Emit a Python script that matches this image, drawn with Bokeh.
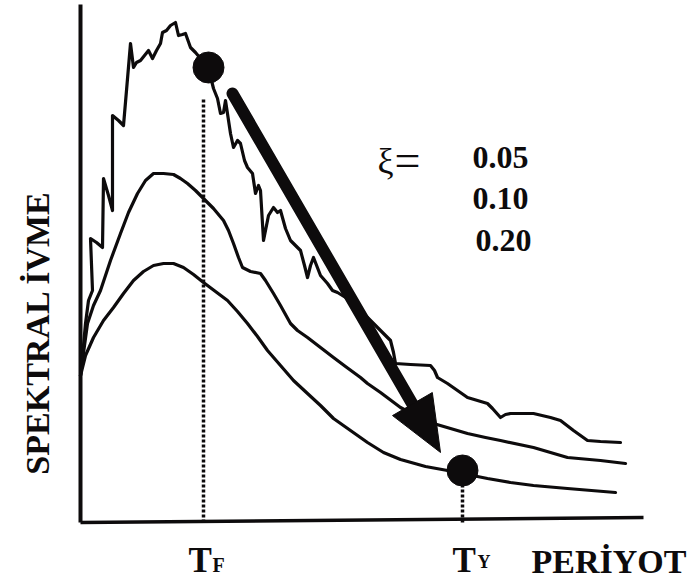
from math import pi
import numpy as np
from bokeh.plotting import figure
from bokeh.models import Range1d
from bokeh.core.properties import value
from bokeh.embed import file_html
from bokeh.resources import INLINE

# ---- data (period T, spectral acceleration Sa; arbitrary units) ----
t_005 = [0.00, 0.03, 0.05, 0.08, 0.12, 0.10, 0.16, 0.22, 0.23, 0.28, 0.32, 0.32, 0.32, 0.38, 0.43, 0.46,
         0.50, 0.53, 0.56, 0.60, 0.64, 0.68, 0.72, 0.76, 0.80, 0.82, 0.86, 0.90, 0.95, 0.98, 1.02, 1.05,
         1.10, 1.15, 1.20, 1.28, 1.33, 1.37, 1.40, 1.43, 1.45, 1.50, 1.53, 1.57, 1.60, 1.64, 1.67, 1.72,
         1.75, 1.78, 1.80, 1.83, 1.88, 1.93, 1.97, 2.00, 2.05, 2.10, 2.15, 2.20, 2.24, 2.27, 2.30, 2.33,
         2.40, 2.47, 2.52, 2.57, 2.70, 2.85, 2.97, 3.05, 3.10, 3.13, 3.15, 3.30, 3.50, 3.54, 3.57, 3.67,
         3.87, 4.07, 4.12, 4.20, 4.25, 4.30, 4.53, 4.70, 4.80, 4.93, 5.07, 5.20, 5.40]
sa_005 = [1.47, 1.77, 1.99, 2.22, 2.32, 2.84, 2.80, 2.75, 3.44, 3.27, 3.12, 3.72, 4.07, 4.02, 3.97, 4.32,
          4.79, 4.55, 4.60, 4.62, 4.67, 4.72, 4.64, 4.72, 4.79, 4.90, 4.92, 4.97, 5.00, 4.87, 4.88, 4.89,
          4.75, 4.70, 4.64, 4.54, 4.34, 4.24, 4.09, 4.10, 4.22, 3.89, 3.75, 3.82, 3.79, 3.62, 3.55, 3.49,
          3.29, 3.37, 3.32, 2.82, 3.07, 3.15, 3.10, 3.12, 2.94, 2.82, 2.77, 2.72, 2.57, 2.45, 2.57, 2.65,
          2.47, 2.39, 2.32, 2.30, 2.22, 2.07, 1.95, 1.87, 1.82, 1.70, 1.59, 1.58, 1.57, 1.52, 1.45, 1.39,
          1.25, 1.19, 1.14, 1.05, 1.08, 1.09, 1.09, 1.05, 1.02, 0.92, 0.82, 0.81, 0.80]

t_010 = [0.00, 0.04, 0.07, 0.13, 0.20, 0.30, 0.40, 0.48, 0.57, 0.65, 0.73, 0.83, 0.93, 1.00, 1.07, 1.15,
         1.23, 1.33, 1.43, 1.48, 1.53, 1.58, 1.62, 1.70, 1.80, 1.85, 1.93, 2.00, 2.10, 2.17, 2.27, 2.40,
         2.53, 2.65, 2.80, 2.87, 3.00, 3.20, 3.35, 3.53, 3.70, 3.87, 4.05, 4.20, 4.53, 4.87, 5.20, 5.45]
sa_010 = [1.47, 1.77, 1.99, 2.17, 2.32, 2.62, 2.89, 3.10, 3.29, 3.42, 3.49, 3.49, 3.48, 3.44, 3.39, 3.32,
          3.24, 3.14, 3.02, 2.92, 2.79, 2.65, 2.55, 2.51, 2.49, 2.42, 2.29, 2.17, 1.99, 1.92, 1.85, 1.75,
          1.65, 1.56, 1.45, 1.39, 1.30, 1.15, 1.07, 0.99, 0.94, 0.89, 0.85, 0.82, 0.75, 0.65, 0.62, 0.59]

t_020 = [0.00, 0.05, 0.13, 0.23, 0.33, 0.43, 0.53, 0.63, 0.73, 0.83, 0.93, 1.03, 1.13, 1.23, 1.35, 1.47,
         1.57, 1.67, 1.77, 1.87, 2.00, 2.13, 2.27, 2.40, 2.53, 2.70, 2.87, 3.03, 3.20, 3.45, 3.67, 3.82,
         4.07, 4.30, 4.53, 4.87, 5.35]
sa_020 = [1.47, 1.67, 1.85, 2.02, 2.15, 2.29, 2.42, 2.51, 2.57, 2.59, 2.59, 2.55, 2.48, 2.40, 2.31, 2.22,
          2.11, 1.99, 1.86, 1.72, 1.57, 1.42, 1.29, 1.17, 1.04, 0.92, 0.80, 0.70, 0.63, 0.56, 0.52, 0.49,
          0.44, 0.40, 0.37, 0.34, 0.30]

damping_labels = ["0.05", "0.10", "0.20"]

T_F = 1.23          # period at the first (upper) point
T_Y = 3.82          # period at the second (lower) point
pt_F = (1.28, 4.55)  # marked point on the 0.05 curve
pt_Y = (3.82, 0.52)  # marked point on the 0.20 curve
arrow_from = (1.52, 4.29)
arrow_to = (3.60, 0.70)

x_axis_end = (5.63, 0.05)
y_axis_top = 5.18
tf_line_top = 4.25
ty_line_top = 0.37

# ---- figure ----
INK = "#0d0b0c"
SERIF = value("Liberation Serif")

p = figure(width=698, height=579, output_backend="svg", toolbar_location=None,
           x_range=Range1d(-0.80, 6.18), y_range=Range1d(-0.57, 5.22),
           min_border=0)
p.xaxis.visible = False
p.yaxis.visible = False
p.xgrid.visible = False
p.ygrid.visible = False
p.outline_line_color = None
p.background_fill_color = "white"
p.border_fill_color = "white"

# axes
p.line([0, 0], [0, y_axis_top], line_color=INK, line_width=4)
p.line([0, x_axis_end[0]], [0, x_axis_end[1]], line_color=INK, line_width=3.5)

# dotted guides
p.line([T_F, T_F], [0, tf_line_top], line_color=INK, line_width=3.5, line_dash="3 2")
p.line([T_Y, T_Y], [0, ty_line_top], line_color=INK, line_width=3.5, line_dash="3 2")

# spectra
for tx, sy in [(t_005, sa_005), (t_010, sa_010), (t_020, sa_020)]:
    p.line(tx, sy, line_color=INK, line_width=3.2, line_join="round", line_cap="round")

# arrow
ax0, ay0 = arrow_from
ax1, ay1 = arrow_to
d = np.array([ax1 - ax0, ay1 - ay0])
u = d / np.hypot(*d)
n = np.array([-u[1], u[0]])
head_len, head_w = 0.56, 0.46
base = np.array([ax1, ay1]) - head_len * u
p.line([ax0, base[0] + 0.05 * u[0]], [ay0, base[1] + 0.05 * u[1]],
       line_color=INK, line_width=12, line_cap="round")
c1 = base + 0.5 * head_w * n
c2 = base - 0.5 * head_w * n
p.patch([c1[0], ax1, c2[0]], [c1[1], ay1, c2[1]], fill_color=INK, line_color=INK, line_width=1)

# points
p.scatter([pt_F[0], pt_Y[0]], [pt_F[1], pt_Y[1]], size=31, fill_color=INK, line_color=INK)

# damping labels
p.text([2.97], [3.62], text=["ξ"], text_font=SERIF, text_font_size="36px",
       text_color=INK, text_baseline="alphabetic", text_align="left")
p.text([3.14], [3.62], text=["="], text_font=SERIF, text_font_size="46px",
       text_color=INK, text_baseline="alphabetic", text_align="left")
p.text([3.92, 3.92, 3.95], [3.65, 3.24, 2.82], text=damping_labels, text_font=SERIF,
       text_font_size="32px", text_font_style="bold", text_color=INK,
       text_baseline="alphabetic", text_align="left")

# axis labels
p.text([-0.43], [1.90], text=["SPEKTRAL İVME"], angle=pi / 2, text_font=SERIF,
       text_font_size="34px", text_font_style="bold", text_color=INK,
       text_baseline="alphabetic", text_align="center")
p.text([4.51], [-0.39], text=["PERİYOT"], text_font=SERIF, text_font_size="34px",
       text_font_style="bold", text_color=INK, text_baseline="alphabetic", text_align="left")

# period markers
p.text([1.08, 3.72], [-0.38, -0.38], text=["T", "T"], text_font=SERIF, text_font_size="35px",
       text_font_style="bold", text_color=INK, text_baseline="alphabetic", text_align="left")
p.text([1.32], [-0.42], text=["F"], text_font=SERIF, text_font_size="20px",
       text_font_style="bold", text_color=INK, text_baseline="alphabetic", text_align="left")
p.text([3.97], [-0.39], text=["Y"], text_font=SERIF, text_font_size="18px",
       text_font_style="bold", text_color=INK, text_baseline="alphabetic", text_align="left")

open("out.html", "w").write(file_html(p, INLINE))
